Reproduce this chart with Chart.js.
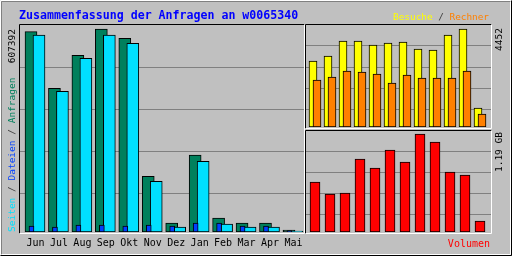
<!DOCTYPE html>
<html><head><meta charset="utf-8">
<script src="https://cdn.jsdelivr.net/npm/chart.js@4/dist/chart.umd.min.js"></script>
<style>
html,body{margin:0;padding:0;background:#c0c0c0;}
#wrap{position:relative;width:512px;height:256px;overflow:hidden;}
canvas{position:absolute;left:0;top:0;}
</style></head><body>
<div id="wrap">
<canvas id="c1" width="512" height="256"></canvas>
<canvas id="c2" width="512" height="256"></canvas>
<canvas id="c3" width="512" height="256"></canvas>
</div>
<script>
// ---- data ----
const months   = ['Jun','Jul','Aug','Sep','Okt','Nov','Dez','Jan','Feb','Mar','Apr','Mai'];
const anfragen = [599300,430000,528700,607392,579600,166700,26900,230400,41900,26900,26900,6000];
const seiten   = [589400,421000,519700,589400,564600,151700,15000,211500,23900,15000,15000,3000];
const dateien  = [18000,15000,21000,21000,18000,21000,18000,27000,27000,18000,18000,4500];
const besuche  = [2998,3225,3907,3907,3725,3816,3861,3543,3498,4179,4452,863];
const rechner  = [2135,2271,2544,2499,2408,1999,2362,2226,2226,2226,2544,591];
const volumen  = [0.607,0.461,0.474,0.886,0.777,0.996,0.850,1.19,1.093,0.729,0.692,0.134];
const mainMax = 607392, visitsMax = 4452, volumeMax = 1.19;
const mainMaxLabel = '607392', visitsMaxLabel = '4452', volumeMaxLabel = '1.19 GB';

// ---- style ----
const FONT = "'DejaVu Sans Mono', monospace";
const BG = '#c0c0c0';
const C = {green:'#00805c', cyan:'#00e0ff', blue:'#0040ff', yellow:'#ffff00', orange:'#ff8000', red:'#ff0000'};

function gridAt(maxVal, fullPx, stepPx){
  return s => { s.ticks = [1,2,3,4].map(k => ({value: maxVal*(k*stepPx-3)/fullPx})); };
}
function yAxis(max, maxVal, fullPx, stepPx){
  return {type:'linear', display:true, min:0, max:max,
    afterFit:s=>{s.width=0;}, afterBuildTicks:gridAt(maxVal, fullPx, stepPx),
    ticks:{display:false}, border:{display:false},
    grid:{color:'#808080', lineWidth:1, drawTicks:false}};
}
function series(vals, shift){ return vals.map((v,i)=>({x:i+shift, y:v})); }
function ds(label, vals, shift, color, thick, order){
  return {label, data:series(vals, shift), backgroundColor:color, borderColor:'#000',
    borderWidth:1, borderSkipped:false, barThickness:thick, grouped:false, order};
}
const common = {responsive:false, animation:false, events:[],
  plugins:{legend:{display:false}, tooltip:{enabled:false}, title:{display:false}}};

function line(ctx, x1,y1,x2,y2,col){ ctx.strokeStyle=col; ctx.lineWidth=1; ctx.beginPath(); ctx.moveTo(x1+0.5,y1+0.5); ctx.lineTo(x2+0.5,y2+0.5); ctx.stroke(); }
function frame(ctx, l,t,r,b){ line(ctx,l,t,r,t,'#000'); line(ctx,l,t,l,b,'#000'); line(ctx,r,t,r,b,'#fff'); line(ctx,l,b,r,b,'#fff'); }
function segs(ctx, parts, x, y, align){
  let total = parts.reduce((a,p)=>a+ctx.measureText(p[0]).width,0);
  let cx = align==='right' ? x-total : x;
  ctx.textAlign='left';
  for(const [t,c] of parts){ ctx.fillStyle=c; ctx.fillText(t,cx,y); cx+=ctx.measureText(t).width; }
}

const decor = {id:'decor', beforeDraw(chart){
  const ctx = chart.ctx; ctx.save();
  ctx.fillStyle=BG; ctx.fillRect(0,0,512,256);
  // outer border
  line(ctx,0,0,511,0,'#fff'); line(ctx,0,0,0,255,'#fff');
  line(ctx,511,0,511,255,'#000'); line(ctx,0,255,511,255,'#000');
  line(ctx,1,1,510,1,'#808080'); line(ctx,1,1,1,254,'#808080');
  line(ctx,510,1,510,254,'#fff'); line(ctx,1,254,510,254,'#fff');
  // plot frames
  frame(ctx,19,24,304,233);
  frame(ctx,305,24,491,128);
  frame(ctx,305,130,491,233);
  // title
  ctx.textBaseline='alphabetic';
  ctx.font = "bold 11.6px "+FONT; ctx.fillStyle='#0000ff'; ctx.textAlign='left';
  ctx.fillText('Zusammenfassung der Anfragen an w0065340', 19, 19);
  ctx.font = "9.4px "+FONT;
  segs(ctx, [['Besuche',C.yellow],[' / ','#404040'],['Rechner',C.orange]], 489, 20, 'right');
  ctx.font = "10px "+FONT;
  ctx.fillStyle=C.red; ctx.textAlign='right'; ctx.fillText('Volumen', 490, 247);
  // rotated labels
  ctx.font = "9.5px "+FONT; ctx.textBaseline='middle';
  ctx.save(); ctx.translate(13,29); ctx.rotate(-Math.PI/2); ctx.fillStyle='#000'; ctx.textAlign='right'; ctx.fillText(mainMaxLabel,0,0); ctx.restore();
  ctx.save(); ctx.translate(13,232); ctx.rotate(-Math.PI/2);
  segs(ctx, [['Seiten',C.cyan],[' / ','#404040'],['Dateien',C.blue],[' / ','#404040'],['Anfragen',C.green]], 0, 0, 'left'); ctx.restore();
  ctx.save(); ctx.translate(500,28); ctx.rotate(-Math.PI/2); ctx.fillStyle='#000'; ctx.textAlign='right'; ctx.fillText(visitsMaxLabel,0,0); ctx.restore();
  ctx.save(); ctx.translate(500,132); ctx.rotate(-Math.PI/2); ctx.fillStyle='#000'; ctx.textAlign='right'; ctx.fillText(volumeMaxLabel,0,0); ctx.restore();
  ctx.restore();
}};

// ---- main chart ----
const M_STEP = 23.45, M_ZERO = 35.5;
new Chart(document.getElementById('c1'), {
  type:'bar',
  data:{datasets:[
    ds('Anfragen', anfragen, -4.5/M_STEP, C.green, 12, 3),
    ds('Seiten',   seiten,   3.5/M_STEP,  C.cyan, 12, 2),
    ds('Dateien',  dateien,  -4/M_STEP,   C.blue, 5, 1)
  ]},
  options:{...common,
    layout:{padding:{left:20, right:208, top:25, bottom:0}},
    scales:{
      x:{type:'linear', min:(20-M_ZERO)/M_STEP, max:(304-M_ZERO)/M_STEP, offset:false,
         afterBuildTicks:s=>{s.ticks = months.map((m,i)=>({value:i}));},
         afterFit:s=>{s.height=24;},
         grid:{display:false, drawTicks:false}, border:{display:false},
         ticks:{callback:v=>months[Math.round(v)], color:'#000', font:{family:FONT, size:10}, padding:5, maxRotation:0, autoSkip:false}},
      y:yAxis(mainMax*207/203, mainMax, 203, 42)
    }},
  plugins:[decor]
});

// ---- visits chart ----
new Chart(document.getElementById('c2'), {
  type:'bar',
  data:{datasets:[
    ds('Besuche', besuche, -2/15, C.yellow, 8, 2),
    ds('Rechner', rechner,  2/15, C.orange, 8, 1)
  ]},
  options:{...common,
    layout:{padding:{left:306, right:21, top:25, bottom:129}},
    scales:{
      x:{type:'linear', display:false, min:-0.6, max:(491-315)/15, offset:false},
      y:yAxis(visitsMax*102/98, visitsMax, 98, 21)
    }}
});

// ---- volume chart ----
new Chart(document.getElementById('c3'), {
  type:'bar',
  data:{datasets:[
    ds('Volumen', volumen, 0, C.red, 10, 1)
  ]},
  options:{...common,
    layout:{padding:{left:306, right:21, top:131, bottom:24}},
    scales:{
      x:{type:'linear', display:false, min:-0.6, max:(491-315)/15, offset:false},
      y:yAxis(volumeMax*101/98, volumeMax, 98, 21)
    }}
});
</script>
</body></html>
